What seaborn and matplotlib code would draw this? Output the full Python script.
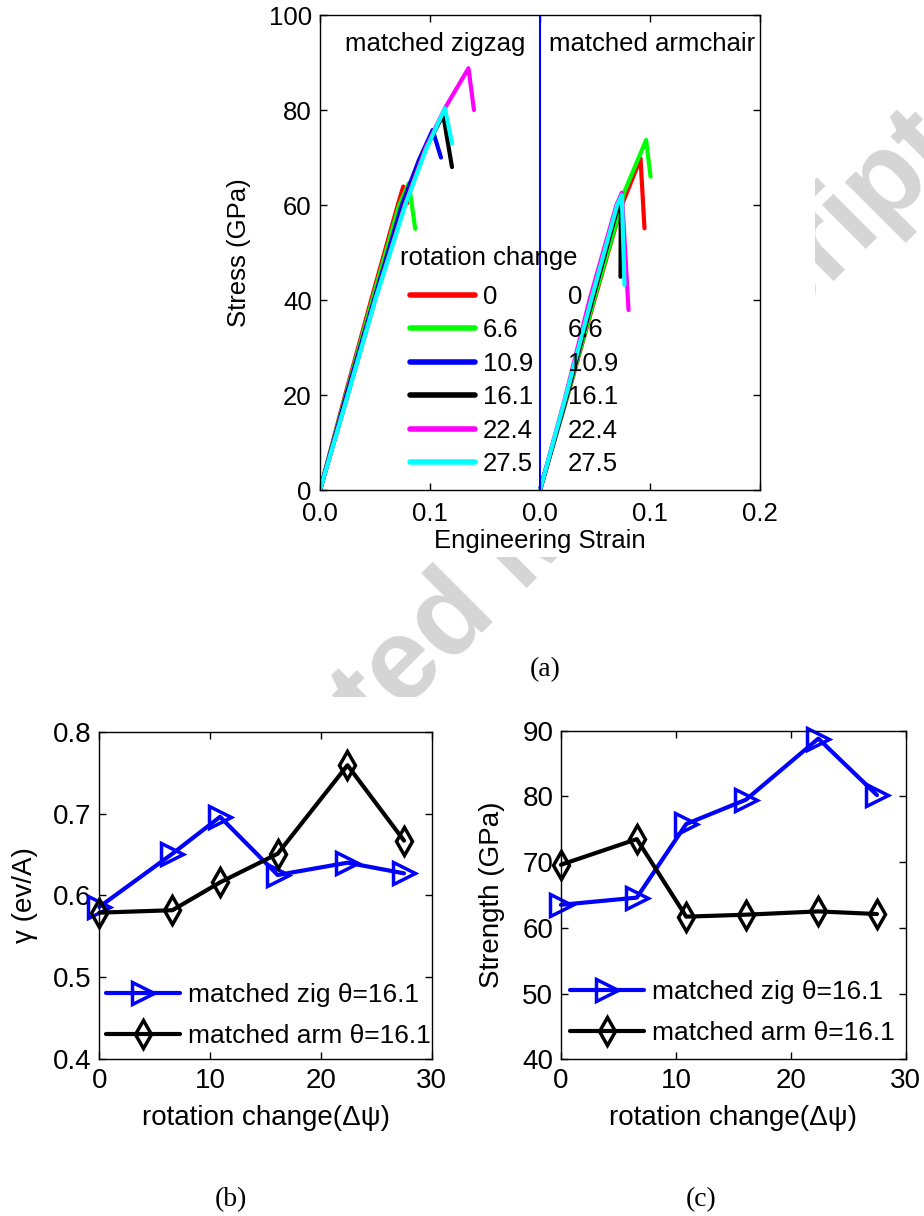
import numpy as np
import matplotlib
matplotlib.use("Agg")
import matplotlib.pyplot as plt
from matplotlib.lines import Line2D
from matplotlib.transforms import Bbox, TransformedBbox
import seaborn as sns
import pandas as pd

sns.set_theme(style="ticks")
plt.rcParams["font.family"] = ["Liberation Sans", "DejaVu Sans"]
plt.rcParams.update({
    "xtick.direction": "in", "ytick.direction": "in",
    "xtick.top": True, "ytick.right": True,
    "axes.edgecolor": "black", "axes.linewidth": 1.0,
    "text.color": "black", "axes.labelcolor": "black",
    "xtick.color": "black", "ytick.color": "black",
})

#%% data
rotations = ["0", "6.6", "10.9", "16.1", "22.4", "27.5"]
colors = ["#ff0000", "#00ff00", "#0000ff", "#000000", "#ff00ff", "#00ffff"]

# stress-strain, matched zigzag
zig_strain = [
    [0, 0.0229, 0.0465, 0.0707, 0.0757, 0.0793],
    [0, 0.0235, 0.0475, 0.0720, 0.0807, 0.0866],
    [0, 0.0240, 0.0490, 0.0744, 0.0900, 0.1024, 0.1100],
    [0, 0.0250, 0.0498, 0.0765, 0.0950, 0.1120, 0.1200],
    [0, 0.0252, 0.0500, 0.0770, 0.0960, 0.1136, 0.1350, 0.1400],
    [0, 0.0253, 0.0502, 0.0775, 0.0960, 0.1136, 0.1200],
]
zig_stress = [
    [0, 20, 40, 60, 63.9, 60.4],
    [0, 20, 40, 60, 64.6, 55.0],
    [0, 20, 40, 60, 69.5, 75.8, 70.0],
    [0, 20, 40, 60, 71.5, 79.0, 68.0],
    [0, 20, 40, 60, 72.0, 80.4, 88.8, 80.0],
    [0, 20, 40, 60, 71.5, 80.4, 73.0],
]

# stress-strain, matched armchair
arm_strain = [
    [0, 0.0253, 0.0495, 0.0744, 0.0914, 0.0950],
    [0, 0.0250, 0.0490, 0.0740, 0.0762, 0.0965, 0.1005],
    [0, 0.0245, 0.0475, 0.0710, 0.0735, 0.0745],
    [0, 0.0245, 0.0475, 0.0712, 0.0735, 0.0732],
    [0, 0.0235, 0.0450, 0.0695, 0.0744, 0.0805],
    [0, 0.0238, 0.0465, 0.0702, 0.0744, 0.0768],
]
arm_stress = [
    [0, 20, 40, 60, 69.8, 55.1],
    [0, 20, 40, 60, 62.5, 73.7, 66.0],
    [0, 20, 40, 60, 61.7, 50.0],
    [0, 20, 40, 60, 61.9, 44.9],
    [0, 20, 40, 60, 62.6, 37.9],
    [0, 20, 40, 60, 62.1, 43.2],
]

# (b) and (c)
rot_change = [0, 6.6, 10.9, 16.1, 22.4, 27.5]
gamma_zig = [0.586, 0.651, 0.696, 0.625, 0.640, 0.627]
gamma_arm = [0.579, 0.582, 0.616, 0.651, 0.759, 0.667]
strength_zig = [63.5, 64.6, 75.8, 79.5, 88.8, 80.2]
strength_arm = [69.6, 73.5, 61.7, 62.0, 62.5, 62.1]

series_names = ["matched zig \u03b8=16.1", "matched arm \u03b8=16.1"]

#%% build long table for top panel
arm_offset = 0.2
rows = []
for fam, strains, stresses, off in [("zig", zig_strain, zig_stress, 0.0),
                                    ("arm", arm_strain, arm_stress, arm_offset)]:
    for rot, xs, ys in zip(rotations, strains, stresses):
        for x, y in zip(xs, ys):
            rows.append({"family": fam, "rotation": rot,
                         "pos": x + off, "stress": y})
curves = pd.DataFrame(rows)
palette = dict(zip(rotations, colors))

fig = plt.figure(figsize=(9.24, 12.16), dpi=100)

# faint watermark, only visible in the page gaps (figure fractions)
for x0, y0, x1, y1 in [(0.0, 0.4268, 1.0, 0.5419), (0.882, 0.5419, 1.0, 1.0)]:
    wm = fig.text(0.566, 0.549, "Accepted Manuscript", rotation=45,
                  fontsize=84, fontweight="bold", color="#d5d5d5",
                  ha="center", va="center", rotation_mode="anchor", zorder=-1)
    wm.set_clip_box(TransformedBbox(Bbox([[x0, y0], [x1, y1]]), fig.transFigure))
    wm.set_clip_on(True)

#%% (a)
fs_a = 18.5
ax1 = fig.add_axes([0.3463, 0.5970, 0.4762, 0.3906])
ax1.set_facecolor("white")
for fam in ["zig", "arm"]:
    sns.lineplot(data=curves[curves["family"] == fam], x="pos", y="stress",
                 hue="rotation", hue_order=rotations, palette=palette,
                 units="rotation", estimator=None, sort=False,
                 linewidth=3, legend=False, ax=ax1)
ax1.axvline(arm_offset, color="#0000ff", lw=1.5)
ax1.set_xlim(0, 0.4)
ax1.set_ylim(0, 100)
ax1.set_xticks([0, 0.1, 0.2, 0.3, 0.4])
ax1.set_xticklabels(["0.0", "0.1", "0.0", "0.1", "0.2"])
ax1.set_yticks([0, 20, 40, 60, 80, 100])
ax1.tick_params(labelsize=fs_a, length=5, width=1)
ax1.tick_params(axis="x", pad=8.5)
ax1.tick_params(axis="y", pad=6)
ax1.set_xlabel("Engineering Strain", fontsize=fs_a)
ax1.set_ylabel("Stress (GPa)", fontsize=fs_a)
ax1.xaxis.set_label_coords(0.5, -0.081)
ax1.yaxis.set_label_coords(-0.156, 0.5)
ax1.text(0.0223, 93.9, "matched zigzag", fontsize=fs_a, va="center")
ax1.text(0.2086, 93.9, "matched armchair", fontsize=fs_a, va="center")
ax1.text(0.0723, 48.8, "rotation change", fontsize=fs_a, va="center")

handles = [Line2D([0], [0], color=c, lw=4) for c in colors]
leg1 = ax1.legend(handles, rotations, loc="upper left",
                  bbox_to_anchor=(0.2045, 0.4322),
                  frameon=False, fontsize=fs_a,
                  handlelength=2.53, handletextpad=0.31, labelspacing=0.37,
                  borderpad=0, borderaxespad=0)
ax1.add_artist(leg1)
blank = [Line2D([0], [0], color="none", lw=4) for c in colors]
ax1.legend(blank, rotations, loc="upper left", bbox_to_anchor=(0.5636, 0.4322),
           frameon=False, fontsize=fs_a, handlelength=0, handletextpad=0,
           labelspacing=0.37, borderpad=0, borderaxespad=0)

#%% (b) and (c)
fs_b = 20
def rotation_panel(ax, zig_vals, arm_vals, ylabel, ylim, yticks, yfmt,
                   label_x, leg_anchor):
    ax.set_facecolor("white")
    sns.lineplot(x=rot_change, y=zig_vals, color="#0000ff", lw=3,
                 marker=">", markersize=16, markerfacecolor="none",
                 markeredgecolor="#0000ff", markeredgewidth=2.5,
                 clip_on=False, ax=ax)
    sns.lineplot(x=rot_change, y=arm_vals, color="black", lw=3,
                 marker="d", markersize=14, markerfacecolor="none",
                 markeredgecolor="black", markeredgewidth=2.5,
                 clip_on=False, ax=ax)
    ax.set_xlim(0, 30)
    ax.set_ylim(*ylim)
    ax.set_xticks([0, 10, 20, 30])
    ax.set_yticks(yticks)
    ax.set_yticklabels([yfmt.format(v) for v in yticks])
    ax.tick_params(labelsize=fs_b, length=5, width=1)
    ax.tick_params(axis="x", pad=6.3)
    ax.tick_params(axis="y", pad=5.5)
    ax.set_xlabel("rotation change(\u0394\u03c8)", fontsize=fs_b)
    ax.set_ylabel(ylabel, fontsize=fs_b)
    ax.xaxis.set_label_coords(0.5, -0.14)
    ax.yaxis.set_label_coords(label_x, 0.5)
    hl = [Line2D([0], [0], color="#0000ff", lw=3, marker=">", markersize=16,
                 markerfacecolor="none", markeredgewidth=2.5),
          Line2D([0], [0], color="black", lw=3, marker="d", markersize=14,
                 markerfacecolor="none", markeredgewidth=2.5)]
    ax.legend(hl, series_names, loc="upper left", bbox_to_anchor=leg_anchor,
              frameon=False, fontsize=19, handlelength=2.8, handletextpad=0.3,
              labelspacing=0.65, borderpad=0, borderaxespad=0)

ax2 = fig.add_axes([0.1075, 0.1289, 0.3597, 0.2694])
rotation_panel(ax2, gamma_zig, gamma_arm, "\u03b3 (ev/A)",
               (0.4, 0.8), [0.4, 0.5, 0.6, 0.7, 0.8], "{:.1f}",
               -0.184, (0.02, 0.232))

ax3 = fig.add_axes([0.6071, 0.1289, 0.3731, 0.2702])
rotation_panel(ax3, strength_zig, strength_arm, "Strength (GPa)",
               (40, 90), [40, 50, 60, 70, 80, 90], "{:d}",
               -0.162, (0.026, 0.241))

for lbl, x, y in [("(a)", 545, 670), ("(b)", 231, 1200), ("(c)", 701, 1200)]:
    fig.text(x / 924, 1 - y / 1216, lbl, fontsize=20, ha="center", va="center",
             family=["Liberation Serif", "DejaVu Serif"])

fig.savefig("out.png", dpi=100)
